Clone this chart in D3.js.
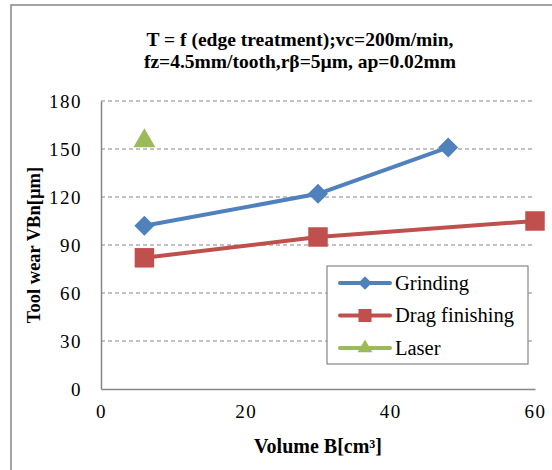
<!DOCTYPE html>
<html>
<head>
<meta charset="utf-8">
<script src="https://cdn.jsdelivr.net/npm/d3@7"></script>
<style>
body { margin: 0; background: #fff; }
svg text { font-family: "Liberation Serif", "DejaVu Serif", "Times New Roman", Times, serif; fill: #000; }
</style>
</head>
<body>
<script>
// data
var seriesNames = ["Grinding", "Drag finishing", "Laser"];
var grindingX = [6, 30, 48];
var grindingY = [102, 122, 151];
var dragX = [6, 30, 60];
var dragY = [82, 95, 105];
var laserX = [6];
var laserY = [155];
var xTicks = [0, 20, 40, 60];
var yTicks = [0, 30, 60, 90, 120, 150, 180];

var colors = ["#4f81bd", "#c0504d", "#9bbb59"];
var symbols = [d3.symbolSquare, d3.symbolSquare, d3.symbolTriangle];
var symSize = [200, 380, 210];
var symRot = [45, 0, 0];

var svg = d3.select("body").append("svg").attr("width", 552).attr("height", 470);
svg.append("rect").attr("x", 11).attr("y", 5).attr("width", 560).attr("height", 480)
	.attr("fill", "#fff").attr("stroke", "#868686").attr("stroke-width", 1.5);

var x = d3.scaleLinear().domain([0, 60]).range([101, 535]);
var y = d3.scaleLinear().domain([0, 180]).range([389, 101]);

// title
var title = svg.append("text").attr("text-anchor", "middle").attr("font-weight", "bold").attr("font-size", 19.5);
title.append("tspan").attr("x", 300).attr("y", 46).text("T = f (edge treatment);vc=200m/min,");
title.append("tspan").attr("x", 300).attr("y", 68).text("fz=4.5mm/tooth,rβ=5µm, ap=0.02mm");

// gridlines
svg.append("g").selectAll("line").data(yTicks.filter(function (d) { return d > 0; })).join("line")
	.attr("x1", x(0)).attr("x2", x(60)).attr("y1", function (d) { return y(d); }).attr("y2", function (d) { return y(d); })
	.attr("stroke", "#868686").attr("stroke-width", 1.2).attr("stroke-dasharray", "4,3");

// axes
var yAxis = svg.append("g").attr("transform", "translate(" + x(0) + ",0)")
	.call(d3.axisLeft(y).tickValues(yTicks).tickSize(0).tickPadding(19));
var xAxis = svg.append("g").attr("transform", "translate(0," + y(0) + ")")
	.call(d3.axisBottom(x).tickValues(xTicks).tickSize(0).tickPadding(16));
[yAxis, xAxis].forEach(function (a) {
	a.attr("font-family", null);
	a.select(".domain").attr("stroke", "#868686").attr("stroke-width", 1.5);
	a.selectAll("text").attr("font-size", 19).attr("letter-spacing", 1.5);
});

svg.append("text").attr("transform", "translate(40,245) rotate(-90)").attr("text-anchor", "middle")
	.attr("font-weight", "bold").attr("font-size", 18.5).text("Tool wear VBn[µm]");
svg.append("text").attr("x", 318).attr("y", 453).attr("text-anchor", "middle")
	.attr("font-weight", "bold").attr("font-size", 20).text("Volume B[cm³]");

// series
var series = [
	{ xs: grindingX, ys: grindingY },
	{ xs: dragX, ys: dragY },
	{ xs: laserX, ys: laserY }
];
var line = d3.line().x(function (d) { return x(d[0]); }).y(function (d) { return y(d[1]); });
series.forEach(function (s, i) {
	var pts = d3.zip(s.xs, s.ys);
	svg.append("path").datum(pts).attr("d", line).attr("fill", "none")
		.attr("stroke", colors[i]).attr("stroke-width", 4).attr("stroke-linejoin", "round");
	svg.append("g").selectAll("path").data(pts).join("path")
		.attr("transform", function (d) { return "translate(" + x(d[0]) + "," + y(d[1]) + ") rotate(" + symRot[i] + ")"; })
		.attr("d", d3.symbol().type(symbols[i]).size(symSize[i])).attr("fill", colors[i]);
});

// legend
var legend = svg.append("g");
legend.append("rect").attr("x", 327).attr("y", 266).attr("width", 201).attr("height", 98)
	.attr("fill", "#fff").attr("stroke", "#868686").attr("stroke-width", 1.2);
seriesNames.forEach(function (name, i) {
	var ly = 283 + i * 32.5;
	legend.append("line").attr("x1", 340).attr("x2", 390).attr("y1", ly).attr("y2", ly)
		.attr("stroke", colors[i]).attr("stroke-width", 4).attr("stroke-linecap", "round");
	legend.append("path").attr("transform", "translate(365," + ly + ") rotate(" + symRot[i] + ")")
		.attr("d", d3.symbol().type(symbols[i]).size(symSize[i] * 0.45)).attr("fill", colors[i]);
	legend.append("text").attr("x", 395).attr("y", ly + 6.5).attr("font-size", 20.5).text(name);
});
</script>
</body>
</html>
